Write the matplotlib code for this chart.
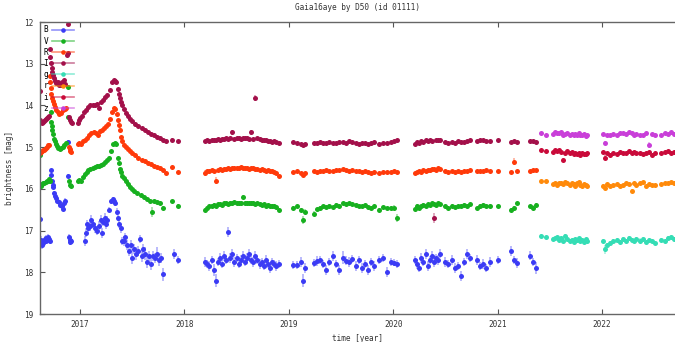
import matplotlib.pyplot as plt
from matplotlib.lines import Line2D
from matplotlib.colors import to_rgba

# ---------------- 2016-2017 seasons (each filter on its own nights)
B_t = [2016.617, 2016.620, 2016.625, 2016.630, 2016.635, 2016.640, 2016.648, 2016.655, 2016.662, 2016.670,
       2016.678, 2016.686, 2016.694, 2016.702, 2016.710, 2016.724, 2016.726, 2016.732, 2016.738, 2016.745,
       2016.752, 2016.760, 2016.770, 2016.780, 2016.795, 2016.810, 2016.825, 2016.840, 2016.848, 2016.856,
       2016.886, 2016.890, 2016.895, 2016.900, 2016.905, 2016.910,
       2017.048, 2017.060, 2017.070, 2017.080, 2017.092, 2017.105, 2017.120, 2017.140, 2017.160, 2017.180,
       2017.200, 2017.210, 2017.222, 2017.235, 2017.250, 2017.262, 2017.280, 2017.300, 2017.312, 2017.325,
       2017.340, 2017.358, 2017.368, 2017.378, 2017.390, 2017.400, 2017.418, 2017.432, 2017.450, 2017.468,
       2017.485, 2017.500, 2017.515, 2017.535, 2017.555, 2017.575, 2017.590, 2017.605, 2017.620, 2017.640,
       2017.660, 2017.680, 2017.700, 2017.720, 2017.740, 2017.760, 2017.780, 2017.800, 2017.900, 2017.940]
B_mag = [16.72, 17.25, 17.30, 17.22, 17.35, 17.28, 17.30, 17.25, 17.20, 17.25,
         17.18, 17.22, 17.15, 17.20, 17.25, 15.55, 15.67, 15.80, 15.90, 15.95,
         16.10, 16.18, 16.22, 16.28, 16.32, 16.38, 16.42, 16.48, 16.35, 16.28,
         14.87, 15.68, 17.15, 17.22, 17.28, 17.25,
         17.25, 17.05, 16.85, 16.95, 16.90, 16.75, 16.85, 16.95, 17.00, 16.90,
         16.75, 17.05, 16.80, 16.70, 16.85, 16.75, 16.50, 16.30, 16.25, 16.30,
         16.35, 16.55, 16.70, 16.85, 16.95, 17.25, 17.25, 17.15, 17.35, 17.50,
         17.35, 17.65, 17.45, 17.55, 17.50, 17.20, 17.60, 17.45, 17.55, 17.75,
         17.60, 17.80, 17.60, 17.65, 17.55, 17.70, 17.65, 18.05, 17.55, 17.70]
B_err = [0.04, 0.08, 0.08, 0.08, 0.08, 0.07, 0.08, 0.07, 0.08, 0.07,
         0.07, 0.08, 0.07, 0.07, 0.08, 0.03, 0.03, 0.03, 0.03, 0.03,
         0.04, 0.04, 0.04, 0.04, 0.04, 0.04, 0.05, 0.05, 0.05, 0.05,
         0.04, 0.04, 0.07, 0.07, 0.07, 0.06,
         0.12, 0.10, 0.10, 0.12, 0.10, 0.12, 0.10, 0.12, 0.10, 0.12,
         0.12, 0.12, 0.10, 0.12, 0.12, 0.10, 0.06, 0.06, 0.06, 0.06,
         0.06, 0.08, 0.08, 0.10, 0.10, 0.10, 0.12, 0.10, 0.12, 0.12,
         0.12, 0.15, 0.12, 0.15, 0.12, 0.10, 0.15, 0.12, 0.15, 0.15,
         0.12, 0.15, 0.12, 0.12, 0.15, 0.15, 0.12, 0.15, 0.12, 0.10]

V_t = [2016.617, 2016.620, 2016.630, 2016.640, 2016.650, 2016.660, 2016.670, 2016.680, 2016.690, 2016.700,
       2016.710, 2016.718, 2016.724, 2016.730, 2016.735, 2016.742, 2016.750, 2016.760, 2016.770, 2016.780,
       2016.792, 2016.805, 2016.820, 2016.835, 2016.850, 2016.865, 2016.884, 2016.888, 2016.895, 2016.902,
       2016.910,
       2016.980, 2016.995, 2017.010, 2017.030, 2017.050, 2017.065, 2017.080, 2017.100, 2017.120, 2017.140,
       2017.160, 2017.180, 2017.200, 2017.220, 2017.240, 2017.260, 2017.280, 2017.300, 2017.320, 2017.335,
       2017.348, 2017.362, 2017.372, 2017.382, 2017.392, 2017.405, 2017.420, 2017.440, 2017.460, 2017.480,
       2017.500, 2017.520, 2017.550, 2017.580, 2017.610, 2017.640, 2017.670, 2017.690, 2017.710, 2017.740,
       2017.770, 2017.800, 2017.880, 2017.940]
V_mag = [15.20, 15.90, 15.92, 15.88, 15.87, 15.85, 15.83, 15.80, 15.80, 15.77,
         15.80, 14.15, 14.40, 14.50, 14.60, 14.68, 14.80, 14.85, 14.92, 14.97,
         15.02, 15.05, 15.02, 15.00, 14.96, 14.90, 13.55, 14.28, 15.82, 15.90,
         15.93,
         15.80, 15.78, 15.80, 15.72, 15.65, 15.60, 15.55, 15.52, 15.50, 15.48,
         15.46, 15.45, 15.42, 15.40, 15.36, 15.32, 15.26, 15.10, 14.92, 14.90,
         14.92, 15.25, 15.38, 15.52, 15.60, 15.68, 15.75, 15.82, 15.88, 15.95,
         16.00, 16.05, 16.10, 16.15, 16.20, 16.24, 16.28, 16.55, 16.30, 16.32,
         16.35, 16.45, 16.30, 16.40]
V_err = [0.02, 0.03, 0.03, 0.02, 0.02, 0.02, 0.02, 0.02, 0.02, 0.02,
         0.02, 0.02, 0.02, 0.02, 0.02, 0.02, 0.02, 0.02, 0.02, 0.02,
         0.02, 0.02, 0.02, 0.02, 0.02, 0.02, 0.02, 0.02, 0.02, 0.02,
         0.02,
         0.03, 0.02, 0.02, 0.02, 0.02, 0.02, 0.02, 0.02, 0.02, 0.02,
         0.02, 0.02, 0.02, 0.02, 0.02, 0.02, 0.02, 0.02, 0.02, 0.02,
         0.02, 0.02, 0.02, 0.02, 0.02, 0.02, 0.02, 0.02, 0.02, 0.02,
         0.02, 0.02, 0.02, 0.02, 0.02, 0.03, 0.03, 0.12, 0.03, 0.03,
         0.03, 0.03, 0.03, 0.03]

R_t = [2016.617, 2016.625, 2016.635, 2016.645, 2016.655, 2016.665, 2016.675, 2016.685, 2016.695, 2016.705,
       2016.712, 2016.716, 2016.720, 2016.726, 2016.732, 2016.740, 2016.750, 2016.760, 2016.772, 2016.785,
       2016.800, 2016.818, 2016.835, 2016.852, 2016.870, 2016.892, 2016.900, 2016.908, 2016.916,
       2016.980, 2016.995, 2017.010, 2017.030, 2017.050, 2017.070, 2017.090, 2017.110, 2017.130, 2017.150,
       2017.170, 2017.190, 2017.210, 2017.230, 2017.250, 2017.270, 2017.290, 2017.310, 2017.325, 2017.338,
       2017.350, 2017.360, 2017.370, 2017.380, 2017.390, 2017.402, 2017.420, 2017.440, 2017.460, 2017.480,
       2017.500, 2017.530, 2017.560, 2017.590, 2017.620, 2017.650, 2017.680, 2017.710, 2017.740, 2017.770,
       2017.800, 2017.820, 2017.880, 2017.940]
R_mag = [15.15, 15.12, 15.10, 15.08, 15.06, 15.04, 15.02, 14.99, 14.96, 14.94,
         13.30, 13.45, 13.58, 13.72, 13.82, 13.90, 13.97, 14.04, 14.10, 14.15,
         14.20, 14.18, 14.12, 14.08, 14.05, 15.00, 15.05, 15.10, 15.12,
         14.92, 14.90, 14.92, 14.86, 14.82, 14.77, 14.72, 14.66, 14.63, 14.66,
         14.70, 14.62, 14.58, 14.55, 14.50, 14.45, 14.32, 14.15, 14.05, 14.08,
         14.20, 14.35, 14.47, 14.60, 14.75, 14.85, 14.95, 15.00, 15.05, 15.10,
         15.15, 15.20, 15.25, 15.30, 15.33, 15.38, 15.40, 15.45, 15.47, 15.50,
         15.55, 15.62, 15.48, 15.60]
R_err = [0.02, 0.02, 0.02, 0.02, 0.02, 0.02, 0.02, 0.02, 0.02, 0.02,
         0.02, 0.02, 0.02, 0.02, 0.02, 0.02, 0.02, 0.02, 0.02, 0.02,
         0.02, 0.02, 0.02, 0.02, 0.02, 0.02, 0.02, 0.02, 0.02,
         0.02, 0.02, 0.02, 0.02, 0.02, 0.02, 0.02, 0.02, 0.02, 0.02,
         0.02, 0.02, 0.02, 0.02, 0.02, 0.02, 0.02, 0.02, 0.02, 0.02,
         0.02, 0.02, 0.02, 0.02, 0.02, 0.02, 0.02, 0.02, 0.02, 0.02,
         0.02, 0.02, 0.02, 0.02, 0.02, 0.02, 0.02, 0.02, 0.02, 0.02,
         0.02, 0.02, 0.02, 0.02]

I_t = [2016.617, 2016.620, 2016.628, 2016.636, 2016.645, 2016.655, 2016.665, 2016.675, 2016.685, 2016.695,
       2016.705, 2016.713, 2016.717, 2016.722, 2016.728, 2016.735, 2016.742, 2016.750, 2016.760, 2016.772,
       2016.785, 2016.800, 2016.815, 2016.830, 2016.845, 2016.860, 2016.880, 2016.885, 2016.890, 2016.898,
       2016.905, 2016.912, 2016.920,
       2016.980, 2016.990, 2017.000, 2017.020, 2017.040, 2017.060, 2017.080, 2017.100, 2017.120, 2017.140,
       2017.160, 2017.180, 2017.200, 2017.220, 2017.240, 2017.260, 2017.290, 2017.310, 2017.322, 2017.335,
       2017.348, 2017.360, 2017.370, 2017.380, 2017.390, 2017.400, 2017.420, 2017.440, 2017.460, 2017.480,
       2017.500, 2017.530, 2017.560, 2017.590, 2017.620, 2017.650, 2017.680, 2017.710, 2017.740, 2017.770,
       2017.800, 2017.820, 2017.880, 2017.940]
I_mag = [13.65, 14.35, 14.40, 14.42, 14.40, 14.38, 14.36, 14.33, 14.30, 14.28,
         14.25, 12.65, 12.85, 12.98, 13.10, 13.20, 13.28, 13.35, 13.42, 13.47,
         13.45, 13.50, 13.52, 13.45, 13.40, 13.48, 12.80, 12.05, 12.75, 14.28,
         14.35, 14.40, 14.42,
         14.42, 14.35, 14.30, 14.25, 14.15, 14.10, 14.03, 14.00, 13.98, 13.98,
         13.97, 14.05, 13.92, 13.86, 13.80, 13.75, 13.62, 13.45, 13.40, 13.42,
         13.45, 13.60, 13.72, 13.82, 13.92, 14.00, 14.08, 14.17, 14.25, 14.32,
         14.38, 14.45, 14.50, 14.55, 14.60, 14.63, 14.68, 14.72, 14.75, 14.78,
         14.82, 14.85, 14.82, 14.86]
I_err = [0.02, 0.02, 0.02, 0.02, 0.02, 0.02, 0.02, 0.02, 0.02, 0.02,
         0.02, 0.02, 0.02, 0.02, 0.02, 0.02, 0.02, 0.02, 0.02, 0.02,
         0.02, 0.02, 0.02, 0.02, 0.02, 0.02, 0.02, 0.02, 0.02, 0.02,
         0.02, 0.02, 0.02,
         0.03, 0.02, 0.02, 0.02, 0.02, 0.02, 0.02, 0.02, 0.02, 0.02,
         0.02, 0.06, 0.02, 0.02, 0.02, 0.02, 0.02, 0.02, 0.02, 0.02,
         0.02, 0.02, 0.02, 0.02, 0.02, 0.02, 0.02, 0.02, 0.02, 0.02,
         0.02, 0.02, 0.02, 0.02, 0.02, 0.03, 0.03, 0.03, 0.03, 0.03,
         0.03, 0.03, 0.03, 0.03]

# ---------------- 2018-2021 seasons, B V R I taken on the same nights
t_s3 = [2018.20, 2018.22, 2018.24, 2018.26, 2018.28, 2018.30, 2018.32, 2018.34, 2018.36, 2018.38,
        2018.40, 2018.42, 2018.44, 2018.46, 2018.48, 2018.50, 2018.52, 2018.54, 2018.56, 2018.58,
        2018.60, 2018.62, 2018.64, 2018.66, 2018.68, 2018.70, 2018.72, 2018.74, 2018.76, 2018.78,
        2018.80, 2018.82, 2018.84, 2018.86, 2018.88, 2018.91]
t_s4 = [2019.04, 2019.08, 2019.12, 2019.14, 2019.16, 2019.24, 2019.27, 2019.30, 2019.33, 2019.36,
        2019.39, 2019.42, 2019.45, 2019.48, 2019.52, 2019.55, 2019.58, 2019.61, 2019.64, 2019.67,
        2019.70, 2019.73, 2019.76, 2019.79, 2019.82, 2019.86, 2019.90, 2019.94, 2019.98, 2020.01,
        2020.04]
t_s5 = [2020.21, 2020.23, 2020.25, 2020.27, 2020.29, 2020.31, 2020.33, 2020.35, 2020.37, 2020.39,
        2020.41, 2020.43, 2020.45, 2020.50, 2020.53, 2020.56, 2020.59, 2020.62, 2020.65, 2020.68,
        2020.71, 2020.74, 2020.80, 2020.83, 2020.86, 2020.89, 2020.93, 2021.00, 2021.13, 2021.16,
        2021.19, 2021.31, 2021.34, 2021.37]

B_s3 = [17.75, 17.80, 17.85, 17.70, 17.95, 18.20, 17.75, 17.65, 17.80, 17.60,
        17.70, 17.03, 17.65, 17.55, 17.75, 17.65, 17.80, 17.70, 17.60, 17.75,
        17.65, 17.55, 17.70, 17.75, 17.60, 17.70, 17.80, 17.75, 17.85, 17.70,
        17.80, 17.90, 17.75, 17.80, 17.85, 17.80]
B_s4 = [17.83, 17.82, 17.75, 18.20, 17.90, 17.78, 17.72, 17.70, 17.80, 17.95,
        17.75, 17.62, 17.80, 17.95, 17.65, 17.72, 17.75, 17.68, 17.85, 17.70,
        17.90, 17.80, 17.95, 17.75, 17.85, 17.70, 17.65, 18.00, 17.75, 17.77,
        17.80]
B_s5 = [17.70, 17.80, 17.90, 17.65, 17.75, 17.55, 17.85, 17.70, 17.60, 17.75,
        17.65, 17.70, 17.55, 17.75, 17.80, 17.70, 17.90, 17.85, 18.10, 17.75,
        17.55, 17.65, 17.70, 17.85, 17.80, 17.90, 17.75, 17.70, 17.50, 17.70,
        17.77, 17.60, 17.75, 17.90]
B_late_err = [0.12, 0.10, 0.12, 0.10, 0.15, 0.15, 0.10, 0.12, 0.10, 0.12,
              0.10, 0.12, 0.12, 0.10, 0.12, 0.10, 0.10, 0.12, 0.10, 0.10,
              0.12, 0.10, 0.10, 0.12, 0.10, 0.10, 0.12, 0.10, 0.10, 0.12,
              0.10, 0.12, 0.10, 0.10, 0.12, 0.10,
              0.10, 0.10, 0.12, 0.15, 0.12, 0.10, 0.12, 0.10, 0.10, 0.12,
              0.10, 0.12, 0.10, 0.12, 0.15, 0.10, 0.12, 0.10, 0.12, 0.10,
              0.12, 0.10, 0.12, 0.10, 0.12, 0.10, 0.10, 0.12, 0.10, 0.08,
              0.10,
              0.10, 0.12, 0.10, 0.12, 0.10, 0.12, 0.12, 0.10, 0.10, 0.12,
              0.10, 0.12, 0.10, 0.12, 0.10, 0.12, 0.12, 0.10, 0.12, 0.10,
              0.12, 0.10, 0.12, 0.10, 0.12, 0.10, 0.12, 0.10, 0.12, 0.10,
              0.12, 0.10, 0.10, 0.15]

V_s3 = [16.50, 16.45, 16.42, 16.40, 16.38, 16.42, 16.37, 16.36, 16.38, 16.35,
        16.34, 16.36, 16.33, 16.35, 16.32, 16.34, 16.33, 16.35, 16.20, 16.34,
        16.33, 16.35, 16.34, 16.33, 16.36, 16.35, 16.37, 16.38, 16.36, 16.40,
        16.38, 16.41, 16.40, 16.42, 16.44, 16.50]
V_s4 = [16.45, 16.42, 16.50, 16.75, 16.55, 16.60, 16.48, 16.45, 16.42, 16.44,
        16.40, 16.43, 16.38, 16.40, 16.35, 16.37, 16.34, 16.36, 16.38, 16.40,
        16.42, 16.39, 16.43, 16.45, 16.42, 16.50, 16.44, 16.47, 16.45, 16.45,
        16.70]
V_s5 = [16.48, 16.40, 16.45, 16.42, 16.38, 16.40, 16.36, 16.39, 16.35, 16.37,
        16.38, 16.34, 16.36, 16.42, 16.45, 16.40, 16.43, 16.41, 16.40, 16.38,
        16.42, 16.37, 16.46, 16.40, 16.38, 16.42, 16.40, 16.41, 16.50, 16.45,
        16.35, 16.42, 16.45, 16.38]
V_late_err = [0.03, 0.03, 0.03, 0.03, 0.03, 0.03, 0.03, 0.03, 0.03, 0.03,
              0.03, 0.03, 0.03, 0.03, 0.03, 0.03, 0.03, 0.03, 0.05, 0.03,
              0.03, 0.03, 0.03, 0.03, 0.03, 0.03, 0.03, 0.03, 0.03, 0.03,
              0.03, 0.03, 0.03, 0.03, 0.03, 0.03,
              0.03, 0.03, 0.05, 0.10, 0.06, 0.06, 0.03, 0.03, 0.03, 0.03,
              0.03, 0.03, 0.03, 0.03, 0.03, 0.03, 0.03, 0.03, 0.03, 0.03,
              0.03, 0.03, 0.03, 0.03, 0.03, 0.05, 0.03, 0.03, 0.03, 0.06,
              0.10,
              0.03, 0.03, 0.03, 0.03, 0.03, 0.03, 0.03, 0.03, 0.03, 0.03,
              0.03, 0.03, 0.03, 0.03, 0.03, 0.03, 0.03, 0.03, 0.03, 0.03,
              0.03, 0.03, 0.03, 0.03, 0.03, 0.03, 0.03, 0.03, 0.05, 0.03,
              0.03, 0.03, 0.06, 0.03]

R_s3 = [15.62, 15.58, 15.56, 15.55, 15.57, 15.80, 15.54, 15.53, 15.55, 15.52,
        15.53, 15.51, 15.52, 15.50, 15.51, 15.49, 15.50, 15.48, 15.50, 15.49,
        15.50, 15.52, 15.49, 15.51, 15.53, 15.52, 15.54, 15.53, 15.55, 15.56,
        15.55, 15.57, 15.58, 15.60, 15.62, 15.70]
R_s4 = [15.60, 15.58, 15.63, 15.66, 15.62, 15.58, 15.60, 15.56, 15.58, 15.55,
        15.57, 15.56, 15.54, 15.55, 15.53, 15.55, 15.56, 15.54, 15.57, 15.58,
        15.60, 15.58, 15.60, 15.62, 15.60, 15.61, 15.60, 15.59, 15.60, 15.58,
        15.59]
R_s5 = [15.63, 15.60, 15.57, 15.59, 15.55, 15.56, 15.54, 15.55, 15.53, 15.52,
        15.54, 15.51, 15.52, 15.58, 15.60, 15.57, 15.60, 15.58, 15.59, 15.57,
        15.56, 15.55, 15.58, 15.56, 15.57, 15.55, 15.56, 15.57, 15.60, 15.35,
        15.58, 15.56, 15.55, 15.54]
R_late_err = [0.08, 0.02, 0.02, 0.02, 0.02, 0.08, 0.02, 0.02, 0.02, 0.02,
              0.02, 0.02, 0.02, 0.02, 0.02, 0.02, 0.02, 0.02, 0.02, 0.02,
              0.02, 0.02, 0.02, 0.02, 0.02, 0.02, 0.02, 0.02, 0.02, 0.02,
              0.02, 0.02, 0.02, 0.02, 0.02, 0.04,
              0.02, 0.02, 0.02, 0.03, 0.02, 0.02, 0.02, 0.02, 0.02, 0.02,
              0.02, 0.02, 0.02, 0.02, 0.02, 0.02, 0.02, 0.02, 0.02, 0.02,
              0.02, 0.02, 0.02, 0.02, 0.02, 0.02, 0.02, 0.02, 0.02, 0.02,
              0.02,
              0.03, 0.02, 0.02, 0.02, 0.02, 0.02, 0.02, 0.02, 0.02, 0.02,
              0.02, 0.02, 0.02, 0.02, 0.02, 0.02, 0.02, 0.02, 0.02, 0.02,
              0.02, 0.02, 0.02, 0.02, 0.02, 0.02, 0.02, 0.02, 0.02, 0.08,
              0.02, 0.02, 0.02, 0.02]

I_s3 = [14.86, 14.84, 14.85, 14.83, 14.82, 14.84, 14.81, 14.82, 14.80, 14.81,
        14.79, 14.80, 14.78, 14.64, 14.80, 14.79, 14.78, 14.80, 14.79, 14.78,
        14.79, 14.80, 14.64, 14.80, 13.83, 14.79, 14.81, 14.82, 14.84, 14.83,
        14.86, 14.85, 14.87, 14.86, 14.88, 14.89]
I_s4 = [14.88, 14.89, 14.92, 14.95, 14.93, 14.90, 14.91, 14.88, 14.90, 14.89,
        14.87, 14.90, 14.89, 14.88, 14.87, 14.89, 14.86, 14.88, 14.90, 14.92,
        14.89, 14.91, 14.93, 14.90, 14.88, 14.92, 14.90, 14.89, 14.87, 14.86,
        14.83]
I_s5 = [14.93, 14.88, 14.90, 14.86, 14.87, 14.84, 14.85, 14.83, 14.85, 16.70,
        14.84, 14.83, 14.82, 14.88, 14.90, 14.87, 14.89, 14.86, 14.88, 14.87,
        14.85, 14.84, 14.86, 14.84, 14.82, 14.85, 14.86, 14.83, 14.88, 14.86,
        14.87, 14.85, 14.86, 14.87]
I_late_err = [0.02, 0.02, 0.02, 0.02, 0.02, 0.02, 0.02, 0.02, 0.02, 0.02,
              0.02, 0.02, 0.02, 0.06, 0.02, 0.02, 0.02, 0.02, 0.02, 0.02,
              0.02, 0.02, 0.06, 0.02, 0.07, 0.02, 0.02, 0.02, 0.02, 0.02,
              0.02, 0.02, 0.02, 0.02, 0.02, 0.02,
              0.02, 0.02, 0.02, 0.04, 0.02, 0.02, 0.02, 0.02, 0.02, 0.02,
              0.02, 0.02, 0.02, 0.02, 0.02, 0.02, 0.02, 0.02, 0.02, 0.02,
              0.02, 0.02, 0.02, 0.02, 0.02, 0.02, 0.02, 0.02, 0.02, 0.02,
              0.02,
              0.02, 0.02, 0.02, 0.02, 0.02, 0.02, 0.02, 0.02, 0.02, 0.12,
              0.02, 0.02, 0.02, 0.02, 0.02, 0.02, 0.02, 0.02, 0.02, 0.02,
              0.02, 0.02, 0.02, 0.02, 0.02, 0.02, 0.02, 0.02, 0.02, 0.02,
              0.02, 0.02, 0.02, 0.02]

# ---------------- 2021-2022 seasons, Sloan g r i z
t_s6 = [2021.42, 2021.46, 2021.53, 2021.55, 2021.57, 2021.59, 2021.61, 2021.63, 2021.65, 2021.67,
        2021.69, 2021.71, 2021.73, 2021.74, 2021.76, 2021.78, 2021.79, 2021.81, 2021.83, 2021.85,
        2021.86]
t_s7 = [2022.01, 2022.03, 2022.05, 2022.08, 2022.11, 2022.14, 2022.17, 2022.20, 2022.23, 2022.26,
        2022.29, 2022.31, 2022.33, 2022.36, 2022.39, 2022.42, 2022.45, 2022.48, 2022.51]
t_s8 = [2022.57, 2022.60, 2022.63, 2022.66, 2022.69]

g_mag = [17.12, 17.15, 17.20, 17.18, 17.15, 17.22, 17.17, 17.25, 17.12, 17.20,
         17.25, 17.22, 17.28, 17.20, 17.23, 17.18, 17.25, 17.22, 17.27, 17.20,
         17.24,
         17.25, 17.45, 17.35, 17.30, 17.25, 17.22, 17.27, 17.20, 17.25, 17.18,
         17.22, 17.26, 17.20, 17.24, 17.20, 17.28, 17.22, 17.25, 17.30,
         17.22, 17.25, 17.18, 17.15, 17.20]
r_mag = [15.80, 15.82, 15.88, 15.85, 15.90, 15.87, 15.85, 15.88, 15.83, 15.86,
         15.90, 15.85, 15.88, 15.92, 15.87, 15.84, 15.90, 15.93, 15.88, 15.91,
         15.93,
         15.92, 15.98, 15.88, 15.93, 15.90, 15.88, 15.92, 15.90, 15.86, 15.89,
         16.05, 15.85, 15.90, 15.87, 15.84, 15.92, 15.88, 15.91, 15.90,
         15.88, 15.85, 15.87, 15.84, 15.86]
i_mag = [15.08, 15.10, 15.12, 15.08, 15.10, 15.07, 15.12, 15.30, 15.15, 15.10,
         15.13, 15.12, 15.16, 15.14, 15.17, 15.15, 15.18, 15.14, 15.16, 15.17,
         15.15,
         15.12, 15.25, 15.15, 15.18, 15.14, 15.16, 15.12, 15.15, 15.13, 15.10,
         15.14, 15.12, 15.15, 15.13, 15.16, 15.14, 15.12, 15.20, 15.15,
         15.14, 15.12, 15.10, 15.13, 15.11]
z_mag = [14.66, 14.70, 14.68, 14.63, 14.65, 14.67, 14.64, 14.70, 14.68, 14.66,
         14.72, 14.69, 14.70, 14.68, 14.71, 14.67, 14.70, 14.72, 14.69, 14.73,
         14.72,
         14.68, 14.90, 14.70, 14.72, 14.68, 14.70, 14.67, 14.65, 14.69, 14.63,
         14.66, 14.70, 14.68, 14.72, 14.70, 14.65, 14.95, 14.68, 14.70,
         14.70, 14.67, 14.69, 14.64, 14.68]
g_err = [0.03, 0.03, 0.04, 0.03, 0.03, 0.04, 0.03, 0.04, 0.03, 0.04,
         0.04, 0.03, 0.04, 0.03, 0.04, 0.03, 0.04, 0.03, 0.04, 0.03,
         0.04,
         0.05, 0.10, 0.05, 0.04, 0.04, 0.05, 0.04, 0.05, 0.04, 0.04,
         0.05, 0.04, 0.04, 0.05, 0.04, 0.04, 0.05, 0.04, 0.04,
         0.04, 0.04, 0.05, 0.04, 0.04]
r_err = [0.02, 0.02, 0.02, 0.02, 0.02, 0.02, 0.02, 0.02, 0.02, 0.02,
         0.02, 0.02, 0.02, 0.02, 0.02, 0.02, 0.02, 0.02, 0.02, 0.02,
         0.02,
         0.03, 0.04, 0.02, 0.02, 0.02, 0.02, 0.02, 0.02, 0.02, 0.02,
         0.04, 0.02, 0.02, 0.02, 0.02, 0.02, 0.02, 0.03, 0.02,
         0.02, 0.02, 0.02, 0.02, 0.02]
i_err = [0.02, 0.02, 0.02, 0.02, 0.02, 0.02, 0.02, 0.04, 0.02, 0.02,
         0.02, 0.02, 0.02, 0.02, 0.02, 0.02, 0.02, 0.02, 0.02, 0.02,
         0.02,
         0.02, 0.05, 0.02, 0.02, 0.02, 0.02, 0.02, 0.02, 0.02, 0.02,
         0.02, 0.02, 0.02, 0.02, 0.02, 0.02, 0.02, 0.04, 0.02,
         0.02, 0.02, 0.02, 0.02, 0.02]
z_err = [0.02, 0.02, 0.02, 0.02, 0.02, 0.02, 0.02, 0.02, 0.02, 0.02,
         0.02, 0.02, 0.02, 0.02, 0.02, 0.02, 0.02, 0.02, 0.02, 0.02,
         0.02,
         0.02, 0.05, 0.02, 0.02, 0.02, 0.02, 0.02, 0.02, 0.02, 0.02,
         0.02, 0.02, 0.02, 0.02, 0.02, 0.02, 0.08, 0.02, 0.02,
         0.02, 0.02, 0.02, 0.02, 0.02]

bands = ["B", "V", "R", "I", "g", "r", "i", "z"]
colors = {"B": "#3b3bf5", "V": "#17b01f", "R": "#ff3a0a", "I": "#a3104a",
          "g": "#35ddb5", "r": "#ff8a0a", "i": "#c90a3a", "z": "#c93fd9"}
year_ticks = [2017, 2018, 2019, 2020, 2021, 2022]
mag_ticks = [12, 13, 14, 15, 16, 17, 18, 19]

t_late = t_s3 + t_s4 + t_s5
t_sloan = t_s6 + t_s7 + t_s8
series = {
    "B": (B_t + t_late, B_mag + B_s3 + B_s4 + B_s5, B_err + B_late_err),
    "V": (V_t + t_late, V_mag + V_s3 + V_s4 + V_s5, V_err + V_late_err),
    "R": (R_t + t_late, R_mag + R_s3 + R_s4 + R_s5, R_err + R_late_err),
    "I": (I_t + t_late, I_mag + I_s3 + I_s4 + I_s5, I_err + I_late_err),
    "g": (t_sloan, g_mag, g_err),
    "r": (t_sloan, r_mag, r_err),
    "i": (t_sloan, i_mag, i_err),
    "z": (t_sloan, z_mag, z_err),
}

plt.rcParams['font.family'] = ['DejaVu Sans Mono']
fig = plt.figure(figsize=(6.75, 3.42), dpi=100)
ax = fig.add_axes([40 / 675, 28 / 342, 635 / 675, 292 / 342])

handles = []
for b in bands:
    t, m, e = series[b]
    c = colors[b]
    ax.errorbar(t, m, yerr=e, fmt='o', ms=3.6, mew=0, color=c,
                ecolor=to_rgba(c, 0.45), elinewidth=1.1, capsize=0)
    ln = Line2D([], [], color=c, lw=1.2, alpha=0.55)
    mk = Line2D([], [], color=c, marker='o', ms=3.3, mew=0, ls='none')
    handles.append((ln, mk))

ax.set_xlim(2016.617, 2022.70)
ax.set_ylim(19, 12)
ax.set_xticks(year_ticks)
ax.set_xticklabels([str(y) for y in year_ticks])
ax.set_yticks(mag_ticks)

ax.tick_params(direction='in', length=3.5, width=0.8, color='#555555',
               labelsize=5.6, labelcolor='#333333')
ax.tick_params(axis='x', top=True, pad=4)
ax.tick_params(axis='y', pad=5)
for s in ['left', 'bottom', 'top']:
    ax.spines[s].set_color('#666666')
    ax.spines[s].set_linewidth(1.0)
ax.spines['right'].set_visible(False)

ax.set_title("Gaia16aye by D50 (id 01111)", fontsize=5.6, color='#333333', pad=9)
ax.set_xlabel("time [year]", fontsize=5.6, color='#333333', labelpad=4)
ax.set_ylabel("brightness [mag]", fontsize=5.6, color='#333333', labelpad=7)

ax.legend(handles, bands, loc='upper left', frameon=False, fontsize=5.6,
          markerfirst=False, handlelength=2.8, handletextpad=0.5,
          labelspacing=0.28, borderaxespad=0.25, borderpad=0.2)

fig.savefig("out.png", dpi=100)
